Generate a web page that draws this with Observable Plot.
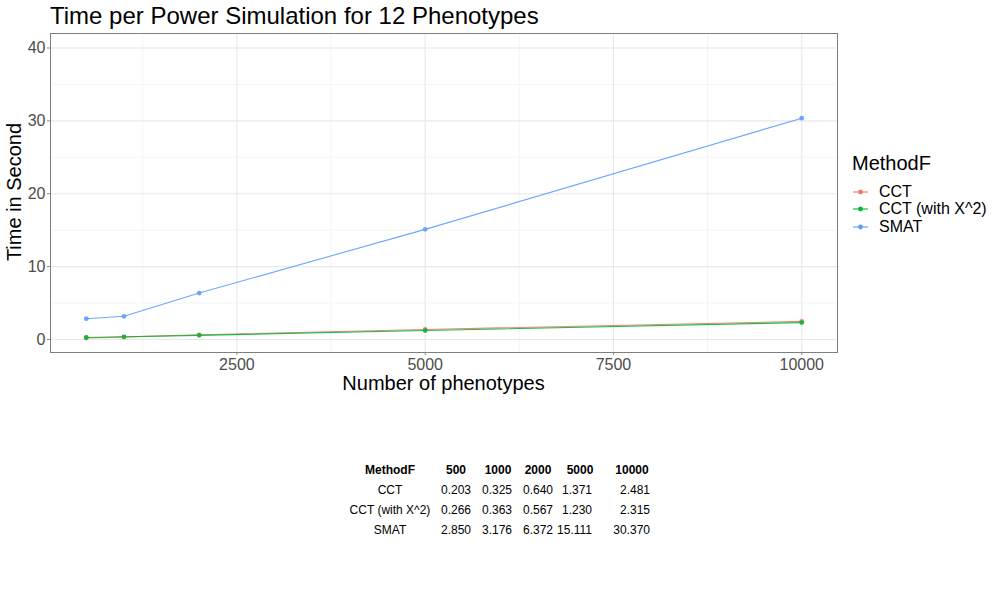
<!DOCTYPE html>
<html>
<head>
<meta charset="utf-8">
<script src="https://cdn.jsdelivr.net/npm/d3@7"></script>
<script src="https://cdn.jsdelivr.net/npm/@observablehq/plot@0.6"></script>
<style>
  body { margin: 0; background: #fff; font-family: "Liberation Sans", Arial, sans-serif; }
  #wrap { position: relative; width: 1000px; height: 600px; overflow: hidden; }
  #plot { position: absolute; left: 0; top: 0; }
  .title { position: absolute; left: 50px; top: 2px; font-size: 24px; color: #000; white-space: nowrap; }
  .xlab { position: absolute; left: 50px; width: 787px; top: 372px; text-align: center; font-size: 20px; }
  .ylab { position: absolute; left: 14px; top: 192px; font-size: 20px; white-space: nowrap;
          transform: translate(-50%, -50%) rotate(-90deg); }
  #legend { position: absolute; left: 852px; top: 152px; }
  #legend .lt { font-size: 20px; margin-bottom: 8px; }
  #legend .it { display: flex; align-items: center; height: 17.5px; font-size: 16px; }
  #legend svg { margin-right: 10px; }
  #tbl { position: absolute; left: 344px; top: 460px; border-collapse: collapse; font-size: 12px; table-layout: fixed; width: 316px; }
  #tbl td, #tbl th { height: 20px; padding: 0; white-space: nowrap; }
  #tbl th { font-weight: bold; text-align: center; }
  #tbl td { text-align: right; }
  #tbl td.n { text-align: center; }
</style>
</head>
<body>
<div id="wrap">
  <div id="plot"></div>
  <div class="title">Time per Power Simulation for 12 Phenotypes</div>
  <div class="ylab">Time in Second</div>
  <div class="xlab">Number of phenotypes</div>
  <div id="legend"></div>
  <table id="tbl"></table>
</div>
<script>
const phenotypes = [500, 1000, 2000, 5000, 10000];
const methods = ["CCT", "CCT (with X^2)", "SMAT"];
const cct = [0.203, 0.325, 0.640, 1.371, 2.481];
const cctX2 = [0.266, 0.363, 0.567, 1.230, 2.315];
const smat = [2.850, 3.176, 6.372, 15.111, 30.370];
const colors = ["#F8766D", "#00BA38", "#619CFF"];
const xTicks = [2500, 5000, 7500, 10000];
const xMinor = [1250, 3750, 6250, 8750];
const yTicks = [0, 10, 20, 30, 40];
const yMinor = [5, 15, 25, 35];

const series = [cct, cctX2, smat];
const data = [];
methods.forEach((m, i) => {
  phenotypes.forEach((p, j) => data.push({method: m, n: p, time: series[i][j]}));
});

const plot = Plot.plot({
  width: 1000,
  height: 400,
  marginTop: 33,
  marginBottom: 48,
  marginLeft: 50,
  marginRight: 163,
  style: {fontFamily: "Liberation Sans, Arial, sans-serif", background: "transparent"},
  x: {domain: [25, 10475]},
  y: {domain: [-1.79, 41.99]},
  color: {domain: methods, range: colors},
  marks: [
    Plot.gridX(xMinor, {stroke: "#f3f3f3", strokeOpacity: 1, strokeWidth: 0.8}),
    Plot.gridY(yMinor, {stroke: "#f3f3f3", strokeOpacity: 1, strokeWidth: 0.8}),
    Plot.gridX(xTicks, {stroke: "#e8e8e8", strokeOpacity: 1, strokeWidth: 1.1}),
    Plot.gridY(yTicks, {stroke: "#e8e8e8", strokeOpacity: 1, strokeWidth: 1.1}),
    Plot.axisX(xTicks, {tickSize: 3, tickPadding: 3, fontSize: 16, fill: "#4d4d4d", stroke: "#888", label: null, tickFormat: d => String(d)}),
    Plot.axisY(yTicks, {tickSize: 3, tickPadding: 2, fontSize: 16, fill: "#4d4d4d", stroke: "#888", label: null}),
    Plot.line(data, {x: "n", y: "time", stroke: "method", strokeWidth: 1.1, strokeOpacity: 0.9}),
    Plot.dot(data, {x: "n", y: "time", fill: "method", r: 2.4, fillOpacity: 0.9}),
    Plot.frame({stroke: "#7f7f7f", strokeWidth: 1})
  ]
});
document.getElementById("plot").appendChild(plot);

// legend
const legend = document.getElementById("legend");
legend.innerHTML = '<div class="lt">MethodF</div>' + methods.map((m, i) =>
  `<div class="it"><svg width="17" height="10"><line x1="1" x2="16" y1="5" y2="5" stroke="${colors[i]}" stroke-width="1.1"/>` +
  `<circle cx="8.5" cy="5" r="2.4" fill="${colors[i]}"/></svg>${m}</div>`).join("");

// table
const widths = [92, 40, 44, 36, 48, 56];
const pads = [0, 5, 8, 3, 12, 10];
const fmt = v => v.toFixed(3);
let html = "<tr>" + ["MethodF", ...phenotypes].map((h, i) =>
  `<th style="width:${widths[i]}px">${h}</th>`).join("") + "</tr>";
methods.forEach((m, i) => {
  html += `<tr><td class="n">${m}</td>` + series[i].map((v, j) =>
    `<td style="padding-right:${pads[j + 1]}px">${fmt(v)}</td>`).join("") + "</tr>";
});
document.getElementById("tbl").innerHTML = html;
</script>
</body>
</html>
